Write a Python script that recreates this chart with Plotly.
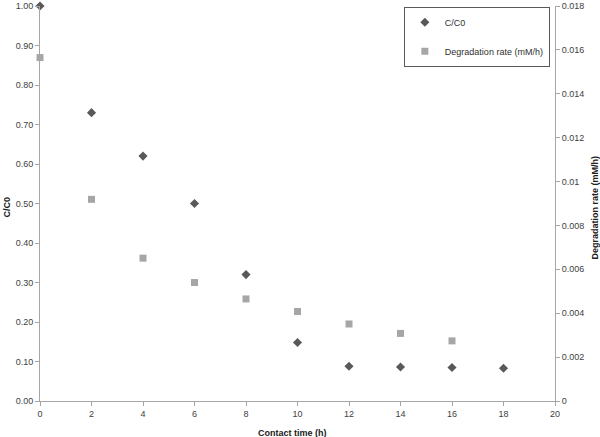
import plotly.graph_objects as go

time_h = [0, 2, 4, 6, 8, 10, 12, 14, 16, 18]
c_c0 = [1.00, 0.73, 0.62, 0.50, 0.32, 0.148, 0.088, 0.086, 0.085, 0.083]
rate_time_h = [0, 2, 4, 6, 8, 10, 12, 14, 16]
deg_rate = [0.01565, 0.00919, 0.00651, 0.0054, 0.00465, 0.00408, 0.00351, 0.00308, 0.00274]

left_ticks = [i / 10 for i in range(11)]
left_labels = [f"{v:.2f}" for v in left_ticks]
right_ticks = [0, 0.002, 0.004, 0.006, 0.008, 0.01, 0.012, 0.014, 0.016, 0.018]
right_labels = ["0", "0.002", "0.004", "0.006", "0.008", "0.01", "0.012", "0.014", "0.016", "0.018"]
x_ticks = list(range(0, 21, 2))

font_family = "Liberation Sans Narrow, Liberation Sans, Arial, sans-serif"
axis_color = "#a6a6a6"
text_color = "#404040"
title_font = dict(family=font_family, size=9, color="#202020")

fig = go.Figure()
fig.add_trace(go.Scatter(
    x=time_h, y=c_c0, mode="markers", name="C/C0",
    marker=dict(symbol="diamond", size=7, color="#595959"),
    legendgroup="a", cliponaxis=False,
))
fig.add_trace(go.Scatter(
    x=rate_time_h, y=deg_rate, mode="markers", name="Degradation rate (mM/h)",
    marker=dict(symbol="square", size=7, color="#a6a6a6"),
    yaxis="y2", legendgroup="b", cliponaxis=False,
))

common = dict(showgrid=False, zeroline=False, showline=True, linecolor=axis_color,
              ticks="outside", ticklen=4, tickcolor=axis_color, automargin=False,
              ticklabeloverflow="allow",
              tickfont=dict(family=font_family, size=9, color=text_color))

fig.update_layout(
    width=600, height=437,
    margin=dict(l=40, r=45, t=6, b=36),
    paper_bgcolor="white", plot_bgcolor="white",
    font=dict(family=font_family, size=9, color=text_color),
    showlegend=True,
    legend=dict(
        x=0.99, y=0.998, xanchor="right", yanchor="top",
        bordercolor="#595959", borderwidth=1, bgcolor="white",
        font=dict(family=font_family, size=9, color="#303030"),
        tracegroupgap=10, itemwidth=30,
    ),
    xaxis=dict(range=[0, 20], tickvals=x_ticks, ticktext=[str(v) for v in x_ticks], **common),
    yaxis=dict(range=[0, 1.0], tickvals=left_ticks, ticktext=left_labels, **common),
    yaxis2=dict(range=[0, 0.018], tickvals=right_ticks, ticktext=right_labels,
                overlaying="y", side="right", **common),
    annotations=[
        dict(text="<b>Contact time (h)</b>", xref="paper", yref="paper", x=0.49, y=0,
             xanchor="center", yanchor="middle", yshift=-32, showarrow=False, font=title_font),
        dict(text="<b>C/C0</b>", xref="paper", yref="paper", x=0, y=0.49, textangle=-90,
             xanchor="center", yanchor="middle", xshift=-33, showarrow=False, font=title_font),
        dict(text="<b>Degradation rate (mM/h)</b>", xref="paper", yref="paper", x=1, y=0.49,
             textangle=-90, xanchor="center", yanchor="middle", xshift=40, showarrow=False,
             font=title_font),
    ],
)

fig.write_html("out.html", config={"displayModeBar": False},
               post_script="document.body.style.margin='0px';document.body.style.overflow='hidden';")
